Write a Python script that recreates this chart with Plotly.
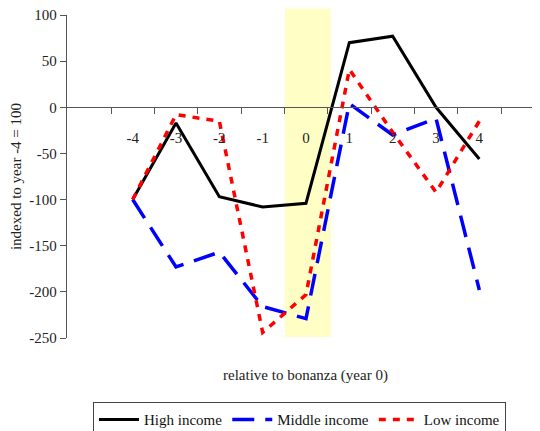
import plotly.graph_objects as go

years = [-4, -3, -2, -1, 0, 1, 2, 3, 4]
tick_labels = ["-4", "-3", "-2", "-1", "0", "1", "2", "3", "4"]
high_income = [-100, -17, -97, -108, -104, 70, 77, 0, -56]
middle_income = [-100, -173, -157, -216, -229, 4, -30, -12, -198]
low_income = [-100, -8, -15, -244, -203, 41, -27, -92, -15]
y_ticks = [-250, -200, -150, -100, -50, 0, 50, 100]
y_tick_labels = ["-250", "-200", "-150", "-100", "-50", "0", "50", "100"]

FONT = "Liberation Serif"

fig = go.Figure()
fig.add_trace(go.Scatter(x=years, y=high_income, mode="lines", name="High income",
                         line=dict(color="#000000", width=3)))
fig.add_trace(go.Scatter(x=years, y=middle_income, mode="lines", name="Middle income",
                         line=dict(color="#0000FF", width=3.5, dash="22px,11px")))
fig.add_trace(go.Scatter(x=years, y=low_income, mode="lines", name="Low income",
                         line=dict(color="#FF0000", width=3.5, dash="7px,7px")))

# shaded bonanza year
fig.add_shape(type="rect", xref="x", yref="paper", x0=-0.49, x1=0.575, y0=0.003, y1=1.02,
              fillcolor="rgba(255,255,150,0.55)", line=dict(width=0), layer="below")

# page body adds an 8px offset, so the figure is sized to the visible area
fig.update_layout(
    width=532, height=423,
    margin=dict(l=59, r=0, t=7, b=93, autoexpand=False),
    paper_bgcolor="white", plot_bgcolor="white",
    font=dict(family=FONT, size=15, color="#222222"),
    showlegend=True,
    legend=dict(orientation="h", x=0.055, y=-0.199, xanchor="left", yanchor="top",
                bordercolor="#444444", borderwidth=1, font=dict(size=15, color="#111111"),
                itemwidth=40, tracegroupgap=0),
    xaxis=dict(
        range=[-5.516, 5.40], anchor="free", position=250/350, automargin=False,
        tickmode="array", tickvals=years, ticktext=tick_labels, ticks="",
        ticklabelstandoff=17, ticklabeloverflow="allow",
        showline=True, linecolor="#555555", linewidth=1.3,
        showgrid=False, zeroline=False,
        minor=dict(tickmode="array", tickvals=[v + 0.5 for v in [-5] + years],
                   ticks="outside", ticklen=6, tickcolor="#555555", tickwidth=1.3, showgrid=False),
    ),
    yaxis=dict(
        range=[-250, 100], tickmode="array", tickvals=y_ticks, ticktext=y_tick_labels,
        automargin=False, ticklabeloverflow="allow",
        ticks="outside", ticklen=6, tickcolor="#555555", tickwidth=1.3,
        showline=True, linecolor="#555555", linewidth=1.3,
        showgrid=False, zeroline=False,
        title=dict(text="indexed to year -4 = 100", font=dict(size=15), standoff=14),
    ),
    annotations=[dict(text="relative to bonanza (year 0)", xref="paper", yref="paper",
                      x=0.505, y=-0.115, xanchor="center", yanchor="middle",
                      showarrow=False, font=dict(size=15, color="#222222"))],
)

fig.write_html("out.html")
